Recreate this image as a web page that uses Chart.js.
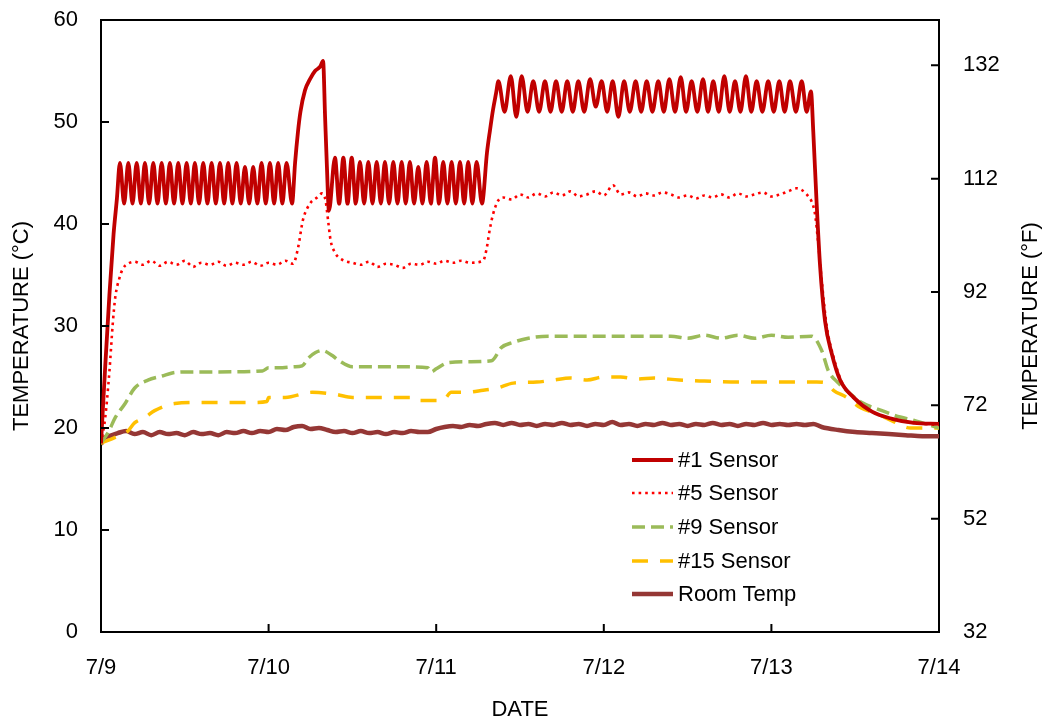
<!DOCTYPE html>
<html lang="en">
  <head>
    <meta charset="UTF-8" />
    <title>Sensor Temperatures</title>
    <script src="https://cdn.jsdelivr.net/npm/chart.js"></script>
    <style>
      body { margin: 0; background: #fff; }
      #wrap { position: relative; width: 1047px; height: 723px; font-family: "Liberation Sans", Arial, sans-serif; }
      #legend { position: absolute; left: 632px; top: 443px; }
      .row { display: flex; align-items: center; height: 33.6px; font-size: 22px; color: #000; }
      .row svg { margin-right: 5px; }
    </style>
  </head>
  <body>
    <div id="wrap">
      <canvas id="tempChart" width="1047" height="723"></canvas>
      <div id="legend"></div>
    </div>

    <script>
      // x = days since 7/9, y = temperature in °C
      const dateLabels = ["7/9", "7/10", "7/11", "7/12", "7/13", "7/14"];
      const celsiusTicks = [0, 10, 20, 30, 40, 50, 60];
      const fahrenheitTicks = [32, 52, 72, 92, 112, 132];
      const seriesNames = ["#1 Sensor", "#5 Sensor", "#9 Sensor", "#15 Sensor", "Room Temp"];

      const sensor1 = [
        [0, 18.5], [0.025, 26], [0.05, 33], [0.075, 39], [0.095, 42.5], [0.113, 46],
        [0.138, 42], [0.163, 46], [0.188, 42], [0.213, 46], [0.238, 42], [0.262, 46],
        [0.287, 42], [0.312, 46], [0.337, 42], [0.362, 46], [0.387, 42], [0.411, 46],
        [0.436, 42], [0.461, 46], [0.486, 42], [0.511, 46], [0.536, 42], [0.56, 46],
        [0.585, 42], [0.61, 46], [0.635, 42], [0.66, 46], [0.685, 42], [0.71, 46],
        [0.735, 42], [0.759, 46], [0.784, 42], [0.809, 46], [0.834, 42], [0.859, 45.6],
        [0.884, 42], [0.908, 45.6], [0.933, 42], [0.958, 46], [0.983, 42], [1.008, 46],
        [1.033, 42], [1.057, 46], [1.082, 42], [1.107, 46], [1.14, 42],
        [1.158, 46], [1.175, 49], [1.19, 51], [1.217, 53.1], [1.247, 54.2], [1.277, 55],
        [1.3, 55.3], [1.31, 55.5], [1.325, 56], [1.337, 50.5], [1.348, 45.6], [1.36, 41.3],
        [1.396, 46.5], [1.421, 42], [1.446, 46.5], [1.471, 42], [1.496, 46.5], [1.52, 42],
        [1.545, 46.1], [1.57, 42], [1.595, 46.1], [1.62, 42], [1.645, 46.1], [1.67, 42],
        [1.694, 46.1], [1.719, 42], [1.744, 46.1], [1.769, 42], [1.794, 46.1], [1.818, 42],
        [1.843, 46.1], [1.868, 42], [1.893, 45.6], [1.918, 42], [1.943, 46.1], [1.968, 42],
        [1.993, 46.5], [2.017, 42], [2.042, 46.1], [2.067, 42], [2.092, 46.1], [2.117, 42],
        [2.142, 46.1], [2.167, 42], [2.191, 46.1], [2.216, 42], [2.241, 46.1], [2.273, 42],
        [2.303, 47], [2.321, 49.2], [2.339, 51.2], [2.357, 52.8], [2.371, 54],
        [2.408, 51], [2.445, 54.5], [2.478, 50.5], [2.51, 54.5], [2.545, 51], [2.579, 54],
        [2.614, 51], [2.649, 54], [2.682, 51], [2.715, 54], [2.749, 51], [2.782, 54],
        [2.815, 51], [2.848, 54], [2.883, 51], [2.918, 54.2], [2.952, 51.5], [2.987, 54],
        [3.02, 51], [3.053, 54], [3.087, 50.5], [3.121, 54], [3.155, 51], [3.19, 54],
        [3.223, 51], [3.256, 54], [3.29, 51], [3.325, 54], [3.358, 51], [3.391, 54.2],
        [3.425, 51], [3.459, 54.4], [3.491, 51], [3.524, 54], [3.558, 51], [3.592, 54.2],
        [3.622, 51], [3.653, 54], [3.686, 51], [3.719, 54.5], [3.751, 51], [3.783, 54],
        [3.815, 51], [3.848, 54.5], [3.88, 51], [3.912, 54], [3.946, 51], [3.981, 54],
        [4.014, 51], [4.047, 54], [4.079, 51], [4.111, 54], [4.146, 51], [4.181, 54],
        [4.21, 51], [4.236, 53], [4.25, 49], [4.27, 42], [4.29, 36], [4.32, 30.5],
        [4.36, 27.3], [4.41, 24.7], [4.49, 23], [4.6, 21.6], [4.72, 20.9], [4.85, 20.5],
        [5, 20.4]
      ];

      const sensor5 = [
        [0, 18.5], [0.025, 21], [0.05, 25.5], [0.07, 30.2], [0.085, 32.8], [0.11, 34.7],
        [0.13, 35.6], [0.16, 36.1], [0.2, 36.3], [0.25, 36], [0.3, 36.4], [0.35, 35.9],
        [0.4, 36.3], [0.45, 36], [0.5, 36.4], [0.55, 35.8], [0.6, 36.2], [0.65, 36],
        [0.7, 36.3], [0.75, 35.9], [0.8, 36.2], [0.85, 36], [0.9, 36.3], [0.95, 35.9],
        [1, 36.2], [1.05, 36], [1.1, 36.4], [1.146, 36.1], [1.175, 37.6], [1.205, 40.4],
        [1.247, 42], [1.289, 42.6], [1.319, 43], [1.34, 42.3], [1.356, 40.2], [1.37, 38.4],
        [1.396, 37.2], [1.438, 36.5], [1.5, 36.2], [1.55, 36], [1.6, 36.3], [1.65, 35.8],
        [1.7, 36.1], [1.75, 36], [1.8, 35.7], [1.85, 36.1], [1.9, 36], [1.95, 36.3],
        [2, 36.1], [2.05, 36.4], [2.1, 36.2], [2.15, 36.4], [2.2, 36.2], [2.28, 36.4],
        [2.3, 37.5], [2.32, 39.5], [2.34, 41], [2.37, 42.3], [2.4, 42.6], [2.45, 42.4],
        [2.5, 42.9], [2.55, 42.6], [2.6, 43], [2.65, 42.7], [2.7, 43.1], [2.75, 42.8],
        [2.8, 43.2], [2.85, 42.7], [2.9, 42.9], [2.95, 43.2], [3, 42.8], [3.055, 43.8],
        [3.1, 42.9], [3.15, 43.1], [3.2, 42.7], [3.25, 43], [3.3, 42.8], [3.35, 43.1],
        [3.4, 42.9], [3.45, 42.6], [3.5, 42.8], [3.55, 42.5], [3.6, 42.8], [3.65, 42.6],
        [3.7, 42.9], [3.75, 42.6], [3.8, 43], [3.85, 42.7], [3.9, 42.9], [3.95, 43.1],
        [4, 42.7], [4.05, 42.9], [4.1, 43.2], [4.15, 43.5], [4.2, 43.1], [4.225, 42.6],
        [4.24, 42.2], [4.26, 41], [4.28, 38], [4.3, 34.5], [4.33, 30], [4.37, 27],
        [4.42, 24.5], [4.5, 22.8], [4.6, 21.6], [4.72, 20.9], [4.85, 20.5], [5, 20.3]
      ];

      const sensor9 = [
        [0, 18.5], [0.05, 19.8], [0.084, 21], [0.144, 22.4], [0.2, 23.9], [0.28, 24.7],
        [0.365, 25.1], [0.425, 25.4], [0.5, 25.5], [0.7, 25.5], [0.963, 25.6], [1, 25.9],
        [1.06, 25.9], [1.15, 26], [1.2, 26.1], [1.24, 26.9], [1.28, 27.4], [1.32, 27.6],
        [1.38, 27.1], [1.42, 26.6], [1.5, 26], [1.8, 26], [1.95, 25.9], [1.97, 25.5],
        [2, 25.8], [2.07, 26.4], [2.2, 26.5], [2.33, 26.6], [2.39, 27.9], [2.46, 28.4],
        [2.55, 28.8], [2.67, 29], [3, 29], [3.4, 29], [3.5, 28.8], [3.6, 29.1],
        [3.7, 28.8], [3.8, 29.1], [3.9, 28.8], [4, 29.1], [4.1, 28.9], [4.24, 29],
        [4.3, 27.6], [4.34, 25.6], [4.4, 24.4], [4.46, 23.5], [4.54, 22.5], [4.66, 21.7],
        [4.74, 21.2], [4.86, 20.7], [5, 20]
      ];

      const sensor15 = [
        [0, 18.5], [0.1, 19.2], [0.16, 19.7], [0.2, 20.5], [0.26, 21], [0.32, 21.7],
        [0.44, 22.4], [0.6, 22.5], [0.9, 22.5], [0.99, 22.6], [1, 23], [1.1, 23],
        [1.26, 23.5], [1.4, 23.3], [1.5, 23], [1.88, 23], [1.9, 22.7], [2.04, 22.7],
        [2.09, 23.5], [2.18, 23.5], [2.28, 23.7], [2.36, 23.9], [2.46, 24.4], [2.6, 24.5],
        [2.7, 24.7], [2.8, 24.9], [2.9, 24.7], [3, 25], [3.1, 25], [3.2, 24.8],
        [3.3, 24.9], [3.45, 24.7], [3.6, 24.6], [3.8, 24.5], [4.27, 24.5], [4.33, 24.4],
        [4.37, 23.7], [4.45, 23], [4.53, 22], [4.63, 21.4], [4.72, 20.7], [4.83, 20],
        [5, 20]
      ];

      const roomTemp = [
        [0, 18.4], [0.02, 19], [0.05, 19.2], [0.1, 19.5], [0.15, 19.7], [0.2, 19.4],
        [0.25, 19.6], [0.3, 19.3], [0.35, 19.6], [0.4, 19.4], [0.45, 19.5], [0.5, 19.3],
        [0.55, 19.6], [0.6, 19.4], [0.65, 19.5], [0.7, 19.3], [0.75, 19.6], [0.8, 19.5],
        [0.85, 19.7], [0.9, 19.5], [0.95, 19.7], [1, 19.6], [1.05, 19.9], [1.1, 19.8],
        [1.15, 20.1], [1.2, 20.2], [1.25, 19.9], [1.3, 20], [1.35, 19.8], [1.4, 19.6],
        [1.45, 19.7], [1.5, 19.5], [1.55, 19.7], [1.6, 19.5], [1.65, 19.6], [1.7, 19.4],
        [1.75, 19.6], [1.8, 19.5], [1.85, 19.7], [1.9, 19.6], [1.95, 19.6], [2, 19.9],
        [2.05, 20.1], [2.1, 20.2], [2.15, 20.1], [2.2, 20.3], [2.25, 20.2], [2.3, 20.4],
        [2.35, 20.5], [2.4, 20.3], [2.45, 20.5], [2.5, 20.3], [2.55, 20.4], [2.6, 20.2],
        [2.65, 20.4], [2.7, 20.3], [2.75, 20.5], [2.8, 20.3], [2.85, 20.4], [2.9, 20.2],
        [2.95, 20.4], [3, 20.3], [3.05, 20.6], [3.1, 20.3], [3.15, 20.4], [3.2, 20.2],
        [3.25, 20.4], [3.3, 20.3], [3.35, 20.5], [3.4, 20.3], [3.45, 20.4], [3.5, 20.2],
        [3.55, 20.4], [3.6, 20.3], [3.65, 20.5], [3.7, 20.3], [3.75, 20.4], [3.8, 20.2],
        [3.85, 20.4], [3.9, 20.3], [3.95, 20.5], [4, 20.3], [4.05, 20.4], [4.1, 20.3],
        [4.15, 20.4], [4.2, 20.3], [4.25, 20.4], [4.3, 20.1], [4.4, 19.8], [4.5, 19.6],
        [4.6, 19.5], [4.7, 19.4], [4.8, 19.3], [4.9, 19.2], [5, 19.2]
      ];

      const styles = [
        { color: "#C00000", width: 3.8, dash: [] },
        { color: "#FF0000", width: 2.6, dash: [2.6, 4] },
        { color: "#9BBB59", width: 3.5, dash: [13, 6] },
        { color: "#FFC000", width: 3.5, dash: [16, 12] },
        { color: "#953735", width: 4.5, dash: [] },
      ];
      const seriesData = [sensor1, sensor5, sensor9, sensor15, roomTemp];

      const font = { family: "'Liberation Sans', Arial, sans-serif", size: 22 };

      const datasets = seriesData.map((pts, i) => ({
        label: seriesNames[i],
        data: pts.map((p) => ({ x: p[0], y: p[1] })),
        borderColor: styles[i].color,
        borderWidth: styles[i].width,
        borderDash: styles[i].dash,
        pointRadius: 0,
        cubicInterpolationMode: "monotone",
        fill: false,
        yAxisID: "y",
      }));

      // inward tick marks, top border and right-hand title
      const frame = {
        id: "frame",
        afterDraw(chart) {
          const { ctx, chartArea: a, scales } = chart;
          ctx.save();
          ctx.strokeStyle = "#000";
          ctx.lineWidth = 2;
          ctx.beginPath();
          ctx.moveTo(a.left - 1, a.top);
          ctx.lineTo(a.right + 1, a.top);
          scales.y.ticks.forEach((t) => {
            const py = scales.y.getPixelForValue(t.value);
            ctx.moveTo(a.left, py);
            ctx.lineTo(a.left + 8, py);
          });
          scales.y2.ticks.forEach((t) => {
            const py = scales.y2.getPixelForValue(t.value);
            ctx.moveTo(a.right - 8, py);
            ctx.lineTo(a.right, py);
          });
          scales.x.ticks.forEach((t) => {
            const px = scales.x.getPixelForValue(t.value);
            ctx.moveTo(px, a.bottom - 8);
            ctx.lineTo(px, a.bottom);
          });
          ctx.stroke();

          ctx.translate(1031, (a.top + a.bottom) / 2);
          ctx.rotate(-Math.PI / 2);
          ctx.fillStyle = "#000";
          ctx.font = "22px 'Liberation Sans', Arial, sans-serif";
          ctx.textAlign = "center";
          ctx.textBaseline = "middle";
          ctx.fillText("TEMPERATURE (°F)", 0, 0);
          ctx.restore();
        },
      };

      function fitSide(width) {
        return (s) => {
          s.width = width;
          s.paddingTop = 0;
          s.paddingBottom = 0;
        };
      }

      const ctx = document.getElementById("tempChart").getContext("2d");
      const tempChart = new Chart(ctx, {
        type: "line",
        data: { datasets: datasets },
        options: {
          responsive: false,
          animation: false,
          layout: { padding: { top: 20 } },
          plugins: { legend: { display: false }, tooltip: { enabled: false } },
          scales: {
            x: {
              type: "linear",
              min: 0,
              max: 5,
              afterFit: (s) => { s.height = 91; },
              afterBuildTicks: (s) => { s.ticks = dateLabels.map((d, i) => ({ value: i })); },
              ticks: { color: "#000", font: font, padding: 23, maxRotation: 0, callback: (v) => dateLabels[v] },
              grid: { drawOnChartArea: false, drawTicks: false },
              border: { color: "#000", width: 2 },
              title: { display: true, text: "DATE", color: "#000", font: font, padding: { top: 0, bottom: 0 } },
            },
            y: {
              position: "left",
              min: 0,
              max: 60,
              afterFit: fitSide(101),
              afterBuildTicks: (s) => { s.ticks = celsiusTicks.map((v) => ({ value: v })); },
              ticks: { color: "#000", font: font, padding: 23 },
              grid: { drawOnChartArea: false, drawTicks: false },
              border: { color: "#000", width: 2 },
              title: { display: true, text: "TEMPERATURE (°C)", color: "#000", font: font, padding: { top: 9, bottom: 0 } },
            },
            y2: {
              position: "right",
              min: 32,
              max: 140,
              afterFit: fitSide(108),
              afterBuildTicks: (s) => { s.ticks = fahrenheitTicks.map((v) => ({ value: v })); },
              ticks: { color: "#000", font: font, padding: 24 },
              grid: { drawOnChartArea: false, drawTicks: false },
              border: { color: "#000", width: 2 },
            },
          },
        },
        plugins: [frame],
      });

      // legend inside the plot, lower right
      const legend = document.getElementById("legend");
      seriesNames.forEach((name, i) => {
        const st = styles[i];
        const row = document.createElement("div");
        row.className = "row";
        row.innerHTML =
          '<svg width="41" height="8"><line x1="0" y1="4" x2="41" y2="4" stroke="' + st.color +
          '" stroke-width="' + st.width + '" stroke-dasharray="' + (st.dash.join(" ") || "none") +
          '"/></svg><span>' + name + "</span>";
        legend.appendChild(row);
      });
    </script>
  </body>
</html>
